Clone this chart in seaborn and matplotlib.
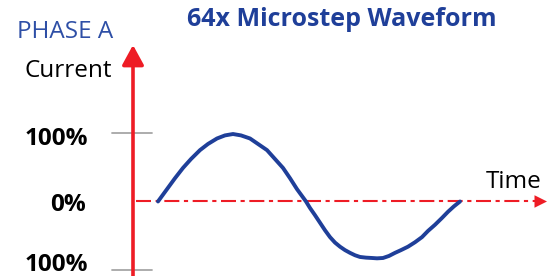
import matplotlib
matplotlib.use("Agg")
import matplotlib.pyplot as plt
import seaborn as sns
import pandas as pd

# ---- data ----
time = [0, 4, 9, 17, 25, 33, 42, 50, 59, 67, 75, 83, 92, 100, 109, 117, 125,
        132, 139, 144, 148,
        152, 157, 162, 167, 172, 177, 182, 187, 192, 197, 202, 208, 214, 219,
        225, 231, 237, 243, 250, 257, 264, 270, 277, 284, 290, 296, 302]
current = [0, 8, 18, 34, 49, 62, 75, 84, 92, 96.5, 98.5, 96.5, 92, 84, 75, 62, 49,
           34, 18, 8, 0,
           -9.5, -20, -31, -42, -52, -60, -66, -71, -75, -78.5, -81, -82, -82.5, -83,
           -82.5, -79.5, -75, -71, -66, -59.5, -52, -43, -34, -24, -15, -7, 0]
tick_values = [100, 0, -100]
tick_labels = ["100%", "0%", "100%"]
title = "64x Microstep Waveform"
phase_label = "PHASE A"
y_label = "Current"
x_label = "Time"

df = pd.DataFrame({"time": time, "current": current})

sns.set_theme(style="white")
plt.rcParams["font.family"] = ["Open Sans", "DejaVu Sans"]

W, H = 547, 276
fig = plt.figure(figsize=(W / 100, H / 100), dpi=100)
ax = fig.add_axes([0, 0, 1, 1])
ax.set_xlim(-158, 389)
ax.set_ylim(-108.8, 294.2)
ax.axis("off")

RED = "#EE1C25"
BLUE = "#1F3F99"
GRAY = "#A6A6A6"

axis_t = -25
x0, x1 = ax.get_xlim()
y0, y1 = ax.get_ylim()

# gray tick marks at +/-100
for v in (tick_values[0], tick_values[2]):
    ax.plot([axis_t - 21, axis_t + 19], [v, v], color=GRAY, lw=1.3, zorder=1)

# dash-dot zero line with arrow head
ax.plot([axis_t + 3, x1 - 8], [0, 0], color=RED, lw=1.5,
        linestyle=(0, (7.2, 2.2, 2.0, 2.2)), zorder=2)
ax.annotate("", xy=(x1, 0), xytext=(x1 - 10, 0),
            arrowprops=dict(arrowstyle="-|>,head_length=0.6,head_width=0.3",
                            mutation_scale=15, color=RED, lw=0,
                            shrinkA=0, shrinkB=0), zorder=3)

# vertical axis arrow
ax.annotate("", xy=(axis_t, 228.5), xytext=(axis_t, y0),
            arrowprops=dict(arrowstyle="-|>,head_length=0.55,head_width=0.3",
                            mutation_scale=22, color=RED, lw=2.6,
                            shrinkA=0, shrinkB=0), zorder=3)

# waveform
sns.lineplot(data=df, x="time", y="current", ax=ax, color=BLUE, lw=2.8,
             legend=False, zorder=4, solid_joinstyle="round",
             solid_capstyle="round")
ax.set_xlim(x0, x1)
ax.set_ylim(y0, y1)
ax.axis("off")

def fx(px):
    return px / W

def fy(py):
    return 1 - py / H

fig.text(fx(342), fy(26), title, ha="center", va="baseline",
         fontsize=18, fontweight="bold", color=BLUE)
fig.text(fx(17), fy(38), phase_label, ha="left", va="baseline",
         fontsize=17.5, color="#2E4FA6")
fig.text(fx(25), fy(77), y_label, ha="left", va="baseline",
         fontsize=17.5, color="black")
fig.text(fx(542), fy(188), x_label, ha="right", va="baseline",
         fontsize=17.5, color="black")

label_baselines_px = [145, 211, 271]
label_right_px = [88, 86, 88]
for lab, by, rx in zip(tick_labels, label_baselines_px, label_right_px):
    fig.text(fx(rx), fy(by), lab, ha="right", va="baseline",
             fontsize=17.5, fontweight="bold", color="black")

fig.savefig("out.png", dpi=100)
